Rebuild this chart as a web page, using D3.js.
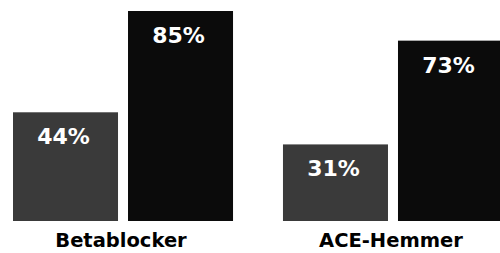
<!DOCTYPE html>
<html>
<head>
<meta charset="utf-8">
<script src="https://cdn.jsdelivr.net/npm/d3@7"></script>
<style>
  body { margin: 0; background: #fff; }
  svg { display: block; }
</style>
</head>
<body>
<script>
// categories and the two bars per category
var categories = ["Betablocker", "ACE-Hemmer"];
var series = ["erste", "zweite"];
var valuesFirst = [44, 31];
var valuesSecond = [85, 73];
var colors = ["#3a3a3a", "#0b0b0b"];

var w = 500, h = 253;
var baseY = 221;

var svg = d3.select("body").append("svg")
  .attr("width", w)
  .attr("height", h);

// x scales: groups, then bars inside a group
var x0 = d3.scaleBand()
  .domain(categories)
  .range([13, 503])
  .paddingInner(0.185);

var x1 = d3.scaleBand()
  .domain(series)
  .range([0, x0.bandwidth()])
  .paddingInner(0.087);

var y = d3.scaleLinear()
  .domain([0, 85])
  .range([baseY, 11]);

var rows = categories.map(function(c, i) {
  return {cat: c, bars: [
    {s: series[0], v: valuesFirst[i]},
    {s: series[1], v: valuesSecond[i]}
  ]};
});

var g = svg.selectAll(".group")
  .data(rows)
  .enter().append("g")
    .attr("class", "group")
    .attr("transform", function(d) { return "translate(" + x0(d.cat) + ",0)"; });

g.selectAll("rect")
  .data(function(d) { return d.bars; })
  .enter().append("rect")
    .attr("x", function(d) { return x1(d.s); })
    .attr("y", function(d) { return y(d.v); })
    .attr("width", x1.bandwidth())
    .attr("height", function(d) { return baseY - y(d.v); })
    .attr("fill", function(d, i) { return colors[i]; });

g.selectAll(".val")
  .data(function(d) { return d.bars; })
  .enter().append("text")
    .attr("class", "val")
    .attr("x", function(d) { return x1(d.s) + x1.bandwidth() / 2 - 2; })
    .attr("y", function(d) { return y(d.v) + 32; })
    .attr("text-anchor", "middle")
    .attr("fill", "#fff")
    .style("font-family", "'DejaVu Sans', sans-serif")
    .style("font-weight", "bold")
    .style("font-size", "22px")
    .text(function(d) { return d.v + "%"; });

// category labels under the bars
g.append("text")
  .attr("x", x0.bandwidth() / 2 - 2)
  .attr("y", 247)
  .attr("text-anchor", "middle")
  .attr("fill", "#000")
  .style("font-family", "'DejaVu Sans', sans-serif")
  .style("font-weight", "bold")
  .style("font-size", "19.5px")
  .text(function(d) { return d.cat; });
</script>
</body>
</html>
